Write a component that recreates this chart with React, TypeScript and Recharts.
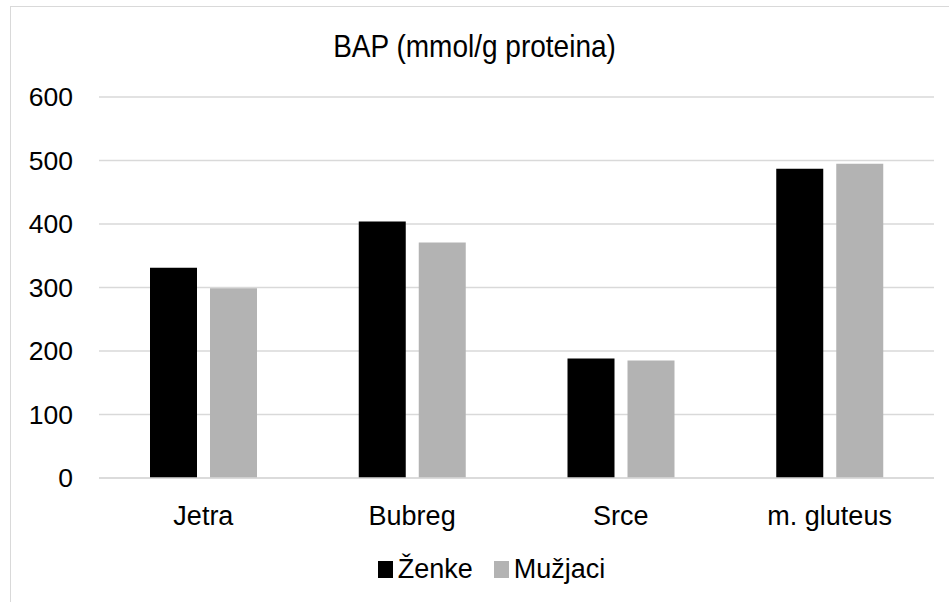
import { BarChart, Bar, XAxis, YAxis, CartesianGrid, Legend } from 'recharts'

const CATEGORIES = ['Jetra', 'Bubreg', 'Srce', 'm. gluteus']
const ZENKE = [331, 404, 188, 487]
const MUZJACI = [299, 371, 185, 495]
const Y_TICKS = [0, 100, 200, 300, 400, 500, 600]

const SERIES = [
    { key: 'zenke', name: 'Ženke', color: '#000000' },
    { key: 'muzjaci', name: 'Mužjaci', color: '#b3b3b3' },
]

const FONT = '"Liberation Sans", Arial, sans-serif'

const chartData = CATEGORIES.map((name, i) => ({
    name,
    zenke: ZENKE[i],
    muzjaci: MUZJACI[i],
}))

// legend drawn like the Excel one: small square, then the label
const renderLegend = () => (
    <div style={{ display: 'flex', justifyContent: 'center', alignItems: 'center', gap: 21, fontFamily: FONT, fontSize: 27, color: '#000' }}>
        {SERIES.map(s => (
            <div key={s.key} style={{ display: 'flex', alignItems: 'center' }}>
                <span style={{ display: 'inline-block', width: 15, height: 17, background: s.color, marginRight: 5 }} />
                <span>{s.name}</span>
            </div>
        ))}
    </div>
)

export default function App() {
    return (
        <div style={{ position: 'fixed', left: 0, top: 0, width: 949, height: 602, background: '#fff', overflow: 'hidden' }}>
            <div style={{ position: 'absolute', left: 10, top: 6, width: 960, height: 620, borderTop: '1.5px solid #d9d9d9', borderLeft: '1.5px solid #d9d9d9' }} />
            <div style={{ position: 'absolute', left: 0, top: 31, width: 949, textAlign: 'center', fontFamily: FONT, fontSize: 28, color: '#000', transform: 'scaleY(1.1)' }}>
                BAP (mmol/g proteina)
            </div>
            <div style={{ position: 'absolute', left: 10, top: 6 }}>
                <BarChart
                    width={939}
                    height={596}
                    data={chartData}
                    margin={{ top: 91, right: 15, bottom: 22, left: 0 }}
                    barGap={13}
                    barSize={47}
                >
                    <CartesianGrid vertical={false} stroke="#d9d9d9" strokeWidth={1.3} />
                    <XAxis
                        dataKey="name"
                        height={76}
                        tickLine={false}
                        axisLine={{ stroke: '#d9d9d9', strokeWidth: 1.3 }}
                        tickSize={0}
                        tickMargin={28}
                        tick={{ fill: '#000', fontSize: 27, fontFamily: FONT }}
                    />
                    <YAxis
                        width={89}
                        domain={[0, 600]}
                        ticks={Y_TICKS}
                        tickLine={false}
                        axisLine={false}
                        tickSize={0}
                        tickMargin={26}
                        tick={{ fill: '#000', fontSize: 26.5, fontFamily: FONT }}
                    />
                    <Legend
                        verticalAlign="bottom"
                        content={renderLegend}
                        wrapperStyle={{ left: 0, width: 963, height: 26 }}
                    />
                    {SERIES.map(s => (
                        <Bar key={s.key} dataKey={s.key} name={s.name} fill={s.color} isAnimationActive={false} />
                    ))}
                </BarChart>
            </div>
        </div>
    )
}
